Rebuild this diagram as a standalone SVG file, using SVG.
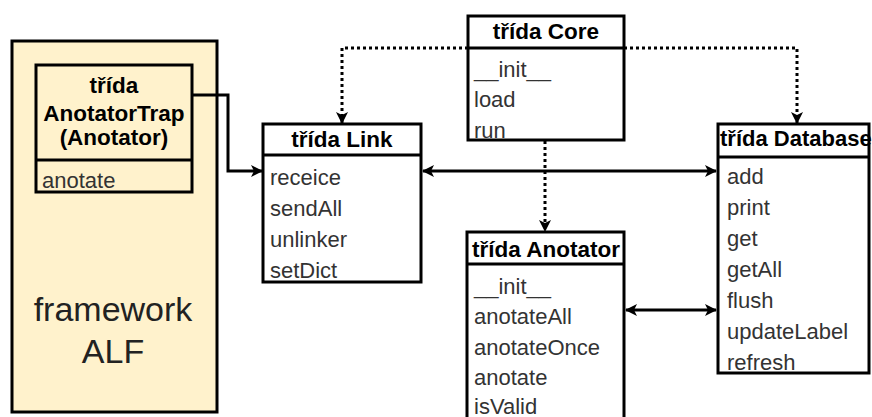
<svg xmlns="http://www.w3.org/2000/svg" width="872" height="417" viewBox="0 0 872 417">
  <style>
    .box { fill: #ffffff; stroke: #000000; stroke-width: 3; }
    .sep { stroke: #000000; stroke-width: 3; }
    .title { font-family: "Liberation Sans", Arial, sans-serif; font-size: 22.5px; font-weight: bold; fill: #000000; }
    .item { font-family: "Liberation Sans", Arial, sans-serif; font-size: 22px; fill: #333333; }
    .big { font-family: "Liberation Sans", Arial, sans-serif; font-size: 34px; fill: #222222; text-anchor: middle; }
    .solid { fill: none; stroke: #000000; stroke-width: 3; }
    .dotted { fill: none; stroke: #000000; stroke-width: 3; stroke-dasharray: 3 3; }
  </style>
  <defs>
    <marker id="arrow" viewBox="0 0 12 12" refX="11" refY="6" markerWidth="12" markerHeight="12" markerUnits="userSpaceOnUse" orient="auto-start-reverse">
      <path d="M0,0 L12,6 L0,12 L3,6 Z" fill="#000000"/>
    </marker>
  </defs>
  <rect width="872" height="417" fill="#ffffff"/>

  <!-- framework ALF container -->
  <g id="framework">
    <rect x="12" y="41" width="205" height="371" fill="#fff2cc" stroke="#000000" stroke-width="3"/>
    <text class="big" x="113" y="321">framework</text>
    <text class="big" x="113" y="363">ALF</text>
  </g>

  <g id="anotatortrap">
    <rect x="36" y="65" width="156" height="127" fill="#fff2cc" stroke="#000000" stroke-width="3"/>
    <line class="sep" x1="36" y1="160" x2="192" y2="160"/>
    <text class="title" x="114" y="93" text-anchor="middle">třída</text>
    <text class="title" x="114" y="121" text-anchor="middle">AnotatorTrap</text>
    <text class="title" x="114" y="145" text-anchor="middle">(Anotator)</text>
    <text class="item" x="42" y="188">anotate</text>
  </g>

  <g id="link">
    <rect class="box" x="263" y="124" width="158" height="158"/>
    <line class="sep" x1="263" y1="155" x2="421" y2="155"/>
    <text class="title" x="342" y="147" text-anchor="middle">třída Link</text>
    <text class="item" x="270" y="185">receice</text>
    <text class="item" x="270" y="216">sendAll</text>
    <text class="item" x="270" y="247">unlinker</text>
    <text class="item" x="270" y="278">setDict</text>
  </g>

  <g id="core">
    <rect class="box" x="468" y="16" width="156" height="124"/>
    <line class="sep" x1="468" y1="48" x2="624" y2="48"/>
    <text class="title" x="546" y="39" text-anchor="middle">třída Core</text>
    <text class="item" x="474" y="77">__init__</text>
    <text class="item" x="474" y="107">load</text>
    <text class="item" x="474" y="138">run</text>
  </g>

  <g id="anotator">
    <rect class="box" x="467" y="232" width="157" height="200"/>
    <line class="sep" x1="467" y1="264" x2="624" y2="264"/>
    <text class="title" x="546" y="257" text-anchor="middle">třída Anotator</text>
    <text class="item" x="474" y="294">__init__</text>
    <text class="item" x="474" y="324">anotateAll</text>
    <text class="item" x="474" y="355">anotateOnce</text>
    <text class="item" x="474" y="385">anotate</text>
    <text class="item" x="474" y="414">isValid</text>
  </g>

  <g id="database">
    <rect class="box" x="718" y="124" width="151" height="249"/>
    <line class="sep" x1="718" y1="157" x2="869" y2="157"/>
    <text class="title" x="720" y="146" style="font-size:22px">třída Database</text>
    <text class="item" x="727" y="184">add</text>
    <text class="item" x="727" y="215">print</text>
    <text class="item" x="727" y="246">get</text>
    <text class="item" x="727" y="277">getAll</text>
    <text class="item" x="727" y="308">flush</text>
    <text class="item" x="727" y="339">updateLabel</text>
    <text class="item" x="727" y="370">refresh</text>
  </g>

  <g id="connectors">
    <path class="dotted" d="M468,48 H342 V123" marker-end="url(#arrow)"/>
    <path class="dotted" d="M624,48 H797 V123" marker-end="url(#arrow)"/>
    <path class="dotted" d="M545,141 V231" marker-end="url(#arrow)"/>
    <path class="solid" d="M423,171 H716" marker-start="url(#arrow)" marker-end="url(#arrow)"/>
    <path class="solid" d="M626,310 H716" marker-start="url(#arrow)" marker-end="url(#arrow)"/>
    <path class="solid" d="M192,95 H228 V171 H262" marker-end="url(#arrow)"/>
  </g>
</svg>
